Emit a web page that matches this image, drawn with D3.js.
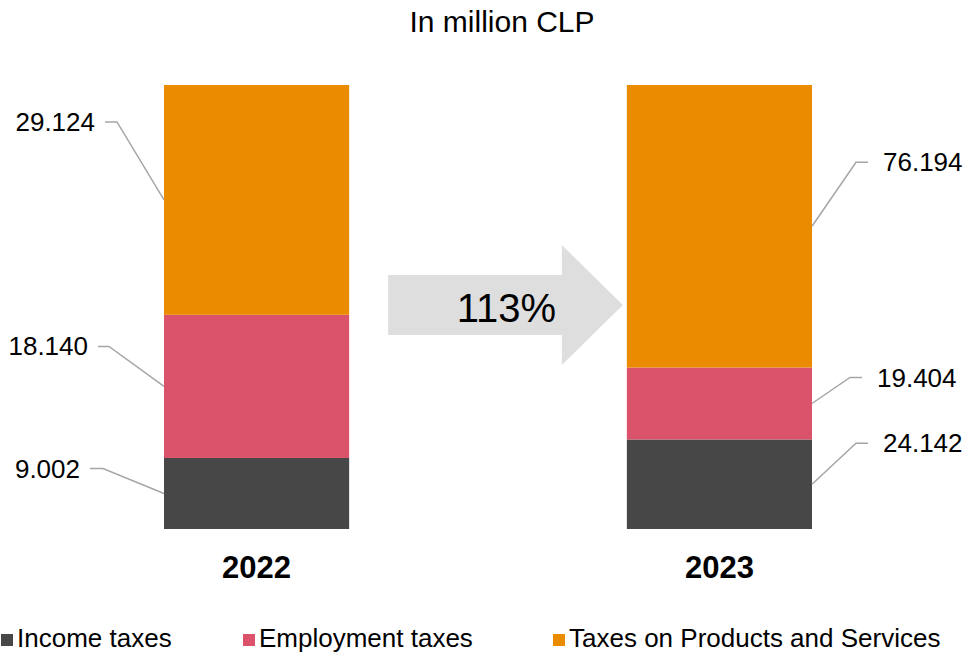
<!DOCTYPE html>
<html>
<head>
<meta charset="utf-8">
<script src="https://cdn.jsdelivr.net/npm/d3@7"></script>
<style>
  html, body { margin: 0; padding: 0; background: #fff; }
  svg { display: block; font-family: "Liberation Sans", Arial, sans-serif; }
</style>
</head>
<body>
<svg id="chart" width="967" height="654"></svg>
<script>
// Tax revenue by type, in million CLP
const years = ["2022", "2023"];
const seriesNames = ["Income taxes", "Employment taxes", "Taxes on Products and Services"];
const incomeTaxes = [9.002, 24.142];
const employmentTaxes = [18.140, 19.404];
const productTaxes = [29.124, 76.194];
const growthLabel = "113%";
const titleText = "In million CLP";

const colors = ["#474747", "#db536a", "#eb8c00"];

// Leader-line layout per year and series: elbow offset from bar edge and
// label offset from segment middle (dx, dy)
const labelLayout = {
  "2022": [{ dx: -61, dy: -25, len: 13 }, { dx: -55, dy: -40, len: 11 }, { dx: -47, dy: -78, len: 12 }],
  "2023": [{ dx: 44, dy: -41, len: 12 }, { dx: 38, dy: -26, len: 12 }, { dx: 44, dy: -64, len: 12 }]
};

const svg = d3.select("#chart");

const rows = years.map((yr, i) => ({
  year: yr,
  "Income taxes": incomeTaxes[i],
  "Employment taxes": employmentTaxes[i],
  "Taxes on Products and Services": productTaxes[i]
}));

const stack = d3.stack().keys(seriesNames).offset(d3.stackOffsetExpand);
const layers = stack(rows);

const x = d3.scaleBand().domain(years).range([164, 812]).paddingInner(0.6).paddingOuter(0);
const y = d3.scaleLinear().domain([0, 1]).range([529, 85]);

// Title
svg.append("text")
  .attr("x", 502).attr("y", 32)
  .attr("text-anchor", "middle")
  .attr("font-size", 30)
  .attr("fill", "#000")
  .text(titleText);

// Stacked bars
const g = svg.append("g");
layers.forEach((layer, si) => {
  g.selectAll(null)
    .data(layer)
    .join("rect")
    .attr("x", d => x(d.data.year))
    .attr("y", d => y(d[1]))
    .attr("width", x.bandwidth())
    .attr("height", d => y(d[0]) - y(d[1]))
    .attr("fill", colors[si]);
});

// Leader lines and value labels
const valueArrays = [incomeTaxes, employmentTaxes, productTaxes];
const fmt = v => d3.format(".3f")(v);
layers.forEach((layer, si) => {
  layer.forEach((d, yi) => {
    const yr = d.data.year;
    const lay = labelLayout[yr][si];
    const left = yi === 0;
    const edgeX = left ? x(yr) : x(yr) + x.bandwidth();
    const midY = (y(d[0]) + y(d[1])) / 2;
    const elbowX = edgeX + lay.dx;
    const ly = midY + lay.dy;
    const endX = left ? elbowX - lay.len : elbowX + lay.len;
    svg.append("polyline")
      .attr("points", [[edgeX, midY], [elbowX, ly], [endX, ly]].map(p => p.join(",")).join(" "))
      .attr("fill", "none")
      .attr("stroke", "#a6a6a6")
      .attr("stroke-width", 1.5);
    svg.append("text")
      .attr("x", left ? endX - 10 : endX + 15)
      .attr("y", ly)
      .attr("dy", "0.35em")
      .attr("text-anchor", left ? "end" : "start")
      .attr("font-size", 26)
      .attr("fill", "#000")
      .text(fmt(valueArrays[si][yi]));
  });
});

// Growth arrow between the bars
const ax0 = x(years[0]) + x.bandwidth() + 39;
const ax1 = x(years[1]) - 4;
const acy = 305;
const headX = ax1 - 61;
const arrowPts = [
  [ax0, acy - 30], [headX, acy - 30], [headX, acy - 60], [ax1, acy],
  [headX, acy + 60], [headX, acy + 30], [ax0, acy + 30]
];
svg.append("polygon")
  .attr("points", arrowPts.map(p => p.join(",")).join(" "))
  .attr("fill", "#dedede");
svg.append("text")
  .attr("x", (ax0 + ax1) / 2 + 1)
  .attr("y", 322)
  .attr("text-anchor", "middle")
  .attr("font-size", 40)
  .attr("fill", "#000")
  .text(growthLabel);

// Category labels
svg.selectAll(".cat")
  .data(years)
  .join("text")
  .attr("class", "cat")
  .attr("x", d => x(d) + x.bandwidth() / 2)
  .attr("y", 578)
  .attr("text-anchor", "middle")
  .attr("font-size", 31)
  .attr("font-weight", "bold")
  .attr("fill", "#000")
  .text(d => d);

// Legend
const legendX = [1, 243, 553];
const legend = svg.selectAll(".leg")
  .data(seriesNames)
  .join("g")
  .attr("class", "leg")
  .attr("transform", (d, i) => `translate(${legendX[i]},634)`);
legend.append("rect")
  .attr("width", 12).attr("height", 12)
  .attr("fill", (d, i) => colors[i]);
legend.append("text")
  .attr("x", 16).attr("y", 13)
  .attr("font-size", 26)
  .attr("fill", "#000")
  .text(d => d);
</script>
</body>
</html>
